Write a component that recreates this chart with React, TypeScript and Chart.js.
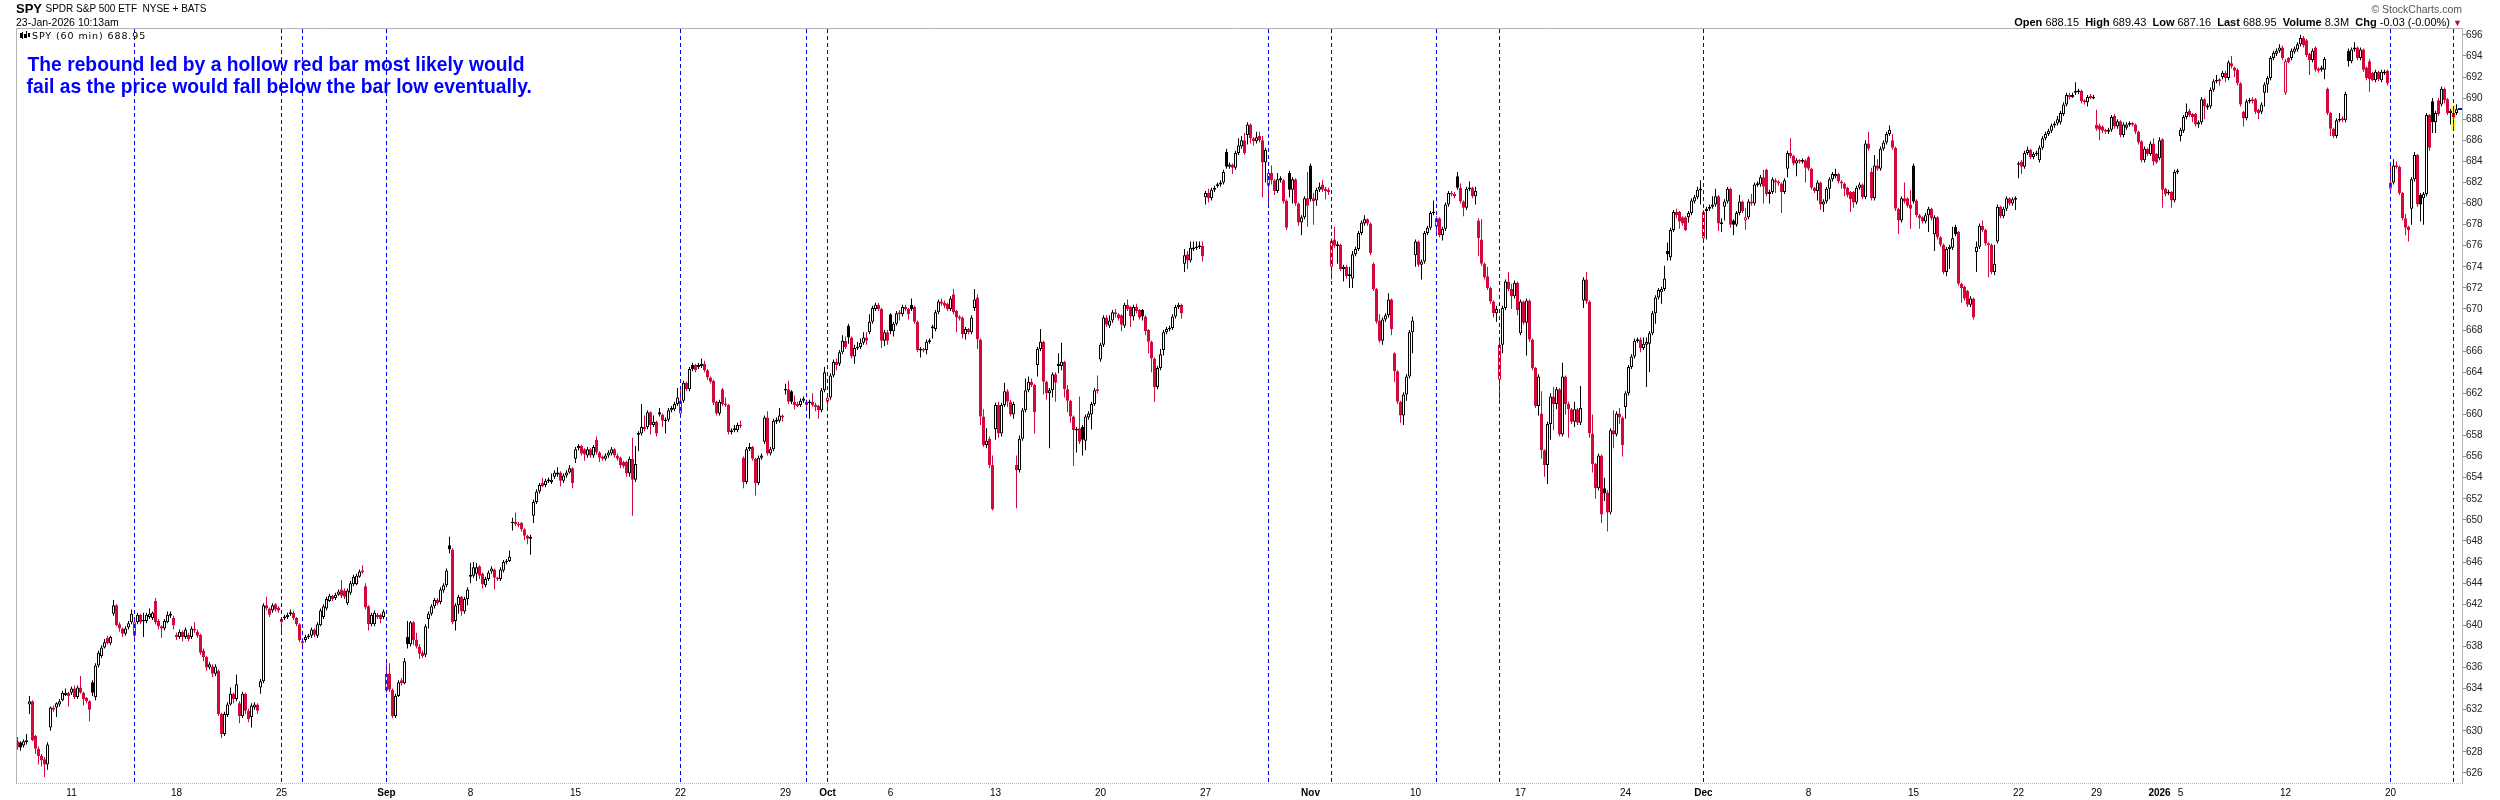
import React, { useEffect, useRef } from "react";
import { Chart, registerables } from "chart.js";

Chart.register(...registerables);

// ---- SPY 60-min bars, 6-Aug-2025 .. 23-Jan-2026 ----
const opens = [
629.0,628.9,628.6,628.9,
632.5,632.8,629.5,628.3,627.6,627.3,626.8,
630.3,632.2,632.2,632.5,632.9,633.4,633.6,
633.6,634.0,633.2,634.1,633.6,633.1,632.8,
634.6,633.2,636.2,637.1,637.9,638.8,638.3,
641.1,641.9,640.1,639.7,639.2,639.8,640.3,
639.0,640.3,641.0,640.4,640.4,640.8,640.7,
642.3,640.4,639.9,639.7,640.3,640.9,640.7,
639.1,638.9,639.4,638.9,639.1,638.9,639.7,
639.4,639.1,637.6,637.0,636.0,636.1,635.4,
635.7,631.6,629.7,631.5,632.5,633.5,633.0,
632.6,631.4,633.5,631.9,631.3,632.2,632.5,
634.1,634.7,641.9,641.6,641.4,642.0,641.7,
640.3,640.7,640.8,641.1,641.2,640.7,640.1,
638.3,638.6,638.9,639.0,639.6,639.0,640.0,
640.8,641.6,642.3,642.8,642.6,642.9,643.4,
643.3,642.1,643.1,643.9,643.9,644.6,645.2,
643.7,641.8,640.1,640.1,641.0,641.0,640.8,
633.8,635.4,633.9,631.4,633.3,634.8,634.5,
638.9,638.2,640.3,638.6,638.0,637.4,637.2,
640.6,641.1,641.8,642.4,642.2,643.3,643.8,
647.6,647.2,640.4,641.9,642.7,641.3,642.5,
644.8,644.7,644.9,645.6,644.9,643.8,644.4,
645.1,645.3,644.5,644.4,645.2,646.0,646.1,
649.7,649.8,649.6,649.7,649.1,648.5,648.2,
650.4,651.7,652.7,653.5,653.3,653.7,653.6,
654.1,654.3,654.5,653.7,654.2,654.5,654.9,
655.8,656.8,657.0,656.7,656.1,656.7,656.1,
657.6,656.4,656.0,655.8,656.1,656.3,656.7,
656.1,655.9,655.5,655.5,654.4,655.8,653.8,
658.1,658.2,658.8,658.8,660.2,659.0,659.3,
660.2,660.0,659.4,659.5,660.4,660.5,661.0,
660.1,661.3,663.0,662.4,664.7,664.7,664.5,
664.6,664.8,664.2,663.5,663.2,661.2,660.1,
662.4,661.0,660.9,658.3,658.5,658.5,659.0,
655.9,653.6,656.7,656.9,655.8,653.5,655.9,
657.4,659.7,656.3,656.7,659.3,659.4,659.9,
662.3,662.4,662.2,661.2,661.0,660.9,661.3,
660.9,661.1,661.2,660.9,660.8,660.4,662.3,
661.2,661.6,663.7,665.0,664.8,665.9,667.0,
668.4,667.3,665.5,666.3,666.4,666.8,667.3,
667.8,668.8,670.0,670.4,670.0,667.0,667.8,
669.5,667.9,668.6,669.7,669.5,670.2,670.0,
670.4,670.2,668.8,666.1,666.2,666.1,666.9,
668.2,668.1,669.7,670.7,670.6,670.5,670.0,
671.4,669.8,669.3,669.2,667.6,668.1,667.8,
670.1,671.1,667.1,659.8,657.1,657.7,655.2,
658.6,660.9,658.2,660.9,662.2,661.2,660.0,
655.2,654.7,657.7,660.4,662.3,663.1,662.8,
664.7,666.2,666.9,663.1,662.0,662.3,663.8,
664.8,664.6,665.0,662.4,661.3,659.8,658.5,
658.7,658.8,657.5,659.7,660.0,661.0,662.4,
665.2,666.6,669.2,668.4,668.9,669.7,669.5,
669.4,668.4,670.4,670.2,669.3,670.2,669.9,
669.9,669.3,668.0,666.9,665.3,662.6,664.4,
666.1,667.8,668.1,668.2,669.3,670.2,670.4,
674.3,675.2,674.6,675.7,675.8,675.9,676.0,
680.6,681.0,680.5,681.3,681.7,681.8,682.0,
684.9,683.5,683.7,683.4,684.8,685.4,686.0,
686.5,687.5,686.2,685.9,686.4,686.0,683.9,
681.7,682.9,682.2,681.2,682.2,682.2,680.3,
682.9,681.3,682.3,680.0,678.2,678.7,680.5,
683.6,680.5,680.3,681.3,681.8,681.4,681.3,
674.0,676.6,676.0,676.1,673.8,674.0,673.1,
672.9,675.2,675.7,677.2,678.1,678.5,678.1,
674.3,671.9,668.9,667.0,669.0,669.4,670.9,
665.8,664.1,661.2,659.9,661.9,663.6,667.8,
675.1,676.4,674.2,674.5,677.2,677.7,679.1,
677.8,678.6,677.0,677.6,679.9,681.0,680.9,
682.6,681.5,680.2,679.6,681.4,681.5,680.7,
678.4,676.6,674.3,673.1,672.0,670.7,669.6,
663.3,666.6,670.1,672.6,671.9,671.2,672.5,
667.7,670.7,668.7,670.8,667.1,664.4,660.8,
660.1,656.6,655.2,659.1,661.7,661.0,662.4,
658.1,663.6,661.0,660.5,659.3,660.5,659.2,
670.8,672.8,670.7,658.2,655.3,653.0,656.1,
653.0,652.6,650.7,658.5,658.1,660.1,659.7,
660.7,662.0,664.5,665.5,667.0,667.1,666.3,
666.6,666.7,667.7,669.6,671.1,671.6,671.9,
675.5,674.9,677.5,679.2,679.2,678.7,678.7,
678.7,679.1,680.2,680.6,681.3,
676.7,679.3,679.5,679.7,679.9,680.7,678.1,
679.7,680.2,681.4,678.4,678.0,679.1,680.2,
678.4,678.7,680.2,680.0,681.8,681.8,682.5,
683.2,680.9,681.1,682.2,682.1,681.9,681.1,
683.3,684.8,684.5,683.8,684.1,684.0,684.1,
684.4,683.3,681.5,681.2,682.0,679.9,680.2,
681.4,682.3,682.6,682.8,682.1,681.9,681.5,
681.1,681.1,680.1,681.5,681.8,680.6,685.7,
683.0,680.5,683.6,683.3,685.2,685.8,686.6,
686.0,685.3,679.5,678.4,680.5,680.5,679.9,
683.6,680.3,678.9,678.7,678.3,678.9,679.5,
677.1,678.7,676.8,676.1,673.5,675.7,675.8,
677.8,677.3,672.4,672.1,671.7,670.4,671.0,
675.4,675.9,677.9,677.5,676.2,676.1,673.5,
676.4,679.7,678.8,679.5,680.5,680.0,680.4,
683.7,684.0,683.5,684.8,685.1,684.4,684.7,
684.1,685.3,686.2,686.6,686.9,687.4,687.6,
687.7,688.5,689.4,690.3,690.1,
690.5,690.6,690.7,689.8,689.6,690.2,690.0,
687.45,687.4,687.3,687.0,686.8,687.0,688.3,
687.3,687.8,686.5,687.2,687.5,687.6,687.5,
686.8,685.9,684.1,685.2,684.7,685.7,684.7,
684.3,686.1,681.4,681.0,681.1,680.3,683.0,
686.4,686.9,688.2,688.8,688.5,688.5,687.5,
687.7,689.9,689.1,689.2,690.8,691.6,691.8,
692.0,692.4,691.9,693.3,692.9,692.7,691.4,
688.7,688.1,689.7,689.9,689.9,688.9,688.7,
690.5,691.3,691.9,693.8,694.2,694.5,694.8,
690.5,693.8,693.8,694.4,694.6,695.1,695.7,
695.5,694.2,693.6,694.8,692.8,692.7,692.7,
690.9,688.6,687.1,686.4,687.9,688.1,687.9,
694.5,693.5,694.6,694.8,693.8,694.6,692.9,
693.5,692.4,691.7,692.5,691.7,692.4,692.6,
681.4,682.0,683.6,683.5,681.0,678.6,677.8,
679.5,682.3,684.6,680.8,680.5,680.9,688.4,
689.7,687.7,689.8,689.4,690.9,689.9,688.6,
688.15,688.6,
];

const highs = [
629.4,629.0,629.2,629.7,
633.3,632.9,629.6,628.5,627.8,627.5,628.9,
632.3,632.4,632.7,633.0,633.8,634.0,633.7,
634.2,634.3,634.3,635.2,633.7,633.2,632.9,
634.8,636.4,637.6,638.1,638.7,639.0,639.0,
642.4,642.0,640.3,639.8,639.9,640.4,641.5,
640.5,641.2,641.1,641.2,641.2,641.6,641.3,
642.6,640.6,640.0,640.6,641.3,641.3,640.9,
639.3,639.6,639.5,639.8,639.3,639.9,640.3,
639.6,639.2,637.8,637.1,636.5,636.3,636.3,
635.8,631.7,631.8,632.7,634.1,633.6,635.3,
632.8,633.7,633.6,632.1,632.6,632.7,632.6,
634.9,642.1,642.7,641.7,642.1,642.1,641.8,
640.8,641.0,641.2,641.5,641.4,640.8,640.2,
638.7,639.1,639.2,639.8,639.7,640.3,641.6,
642.0,642.7,643.0,642.9,643.1,643.4,644.3,
643.5,643.5,644.2,644.8,644.9,645.3,645.7,
644.0,641.9,641.2,641.4,641.2,641.1,641.5,
636.4,636.4,634.0,633.5,634.8,635.0,636.9,
640.4,640.4,640.4,639.3,638.2,637.6,640.1,
641.3,642.0,642.6,642.6,643.6,644.0,645.4,
648.4,647.3,642.1,642.9,642.8,642.7,643.6,
645.9,646.0,645.9,645.7,645.0,644.6,645.2,
645.6,645.4,644.6,645.5,646.2,646.3,647.1,
650.2,650.7,649.8,649.8,649.2,648.6,648.6,
651.9,652.9,653.5,654.0,653.9,654.0,654.4,
654.7,655.0,654.6,654.4,654.7,655.2,655.0,
656.9,657.2,657.1,656.8,656.9,656.8,657.1,
657.9,656.5,656.1,656.3,656.6,656.9,656.8,
656.3,656.0,655.6,655.6,656.0,657.8,657.0,
658.4,661.0,659.9,660.4,660.3,659.9,659.4,
660.6,660.1,659.7,660.6,660.8,661.2,662.5,
662.3,663.2,663.1,664.5,664.9,664.8,664.9,
665.3,665.1,664.3,663.6,663.3,661.3,661.4,
662.5,661.6,661.0,658.7,659.0,659.2,659.4,
656.0,656.9,657.3,657.0,655.9,656.1,656.3,
659.9,660.3,656.9,659.6,659.7,660.6,660.0,
662.9,663.2,662.3,661.8,661.2,661.5,661.7,
661.4,661.4,662.0,661.1,660.9,662.5,664.5,
661.9,663.9,665.2,665.3,666.1,667.5,667.4,
668.6,667.4,666.6,666.9,667.2,667.8,667.8,
669.5,670.3,670.6,670.6,670.1,668.0,668.0,
669.6,668.8,669.8,669.9,670.4,670.4,670.1,
671.0,670.3,668.9,666.4,666.3,667.1,667.2,
668.5,669.9,670.9,671.0,670.8,670.6,671.2,
671.9,669.9,669.4,669.3,668.3,668.2,669.4,
671.9,671.4,667.2,660.5,658.7,657.9,656.1,
661.1,661.2,661.1,663.0,662.4,661.4,661.2,
656.1,658.0,660.6,663.4,663.6,663.4,662.9,
666.4,668.1,667.0,663.2,662.5,664.0,664.0,
665.8,666.8,665.1,662.8,661.4,659.9,658.8,
661.7,659.0,660.0,660.3,661.2,662.5,663.7,
666.8,669.4,669.4,669.4,669.9,670.0,669.6,
669.5,670.6,670.9,670.3,670.4,670.5,670.0,
670.0,669.4,668.1,667.0,665.4,664.6,666.2,
668.0,668.3,668.4,669.5,670.4,670.6,670.5,
675.7,675.5,676.4,676.4,676.4,676.4,676.4,
681.2,681.4,681.5,681.7,682.0,682.2,683.2,
685.2,683.9,683.8,685.0,686.2,686.4,686.7,
687.7,687.6,686.3,686.8,686.8,686.4,685.3,
683.1,683.6,682.3,682.9,682.6,682.3,680.4,
683.1,682.5,682.4,680.1,678.9,680.7,683.0,
683.8,681.0,681.5,682.0,682.2,681.6,681.5,
676.7,677.8,676.4,676.2,674.2,674.2,674.0,
675.5,675.9,677.4,678.4,678.9,678.6,678.2,
674.4,672.0,669.5,669.2,669.6,671.5,671.0,
665.9,664.2,661.3,662.1,663.8,668.0,669.3,
676.6,676.5,674.7,677.4,677.9,679.3,680.3,
678.8,678.7,677.8,680.1,681.2,681.2,681.1,
683.0,681.9,680.3,681.6,682.1,681.6,681.6,
678.6,678.5,674.4,674.0,672.1,670.8,670.3,
667.0,670.3,672.8,673.5,672.4,672.7,672.6,
670.9,670.8,671.0,670.9,667.2,664.5,663.8,
662.2,656.7,659.3,662.0,662.6,662.6,662.5,
664.9,663.7,661.2,660.6,661.2,660.6,662.7,
673.0,673.5,670.8,660.0,655.4,656.3,656.2,
654.0,652.8,658.7,660.4,660.3,660.6,659.8,
662.2,664.7,665.7,667.2,667.3,667.3,667.3,
667.3,667.9,669.8,671.3,672.0,672.1,674.1,
676.3,677.7,679.4,679.5,679.3,678.8,678.8,
679.3,680.5,680.8,681.6,682.2,
679.4,679.7,679.9,680.7,681.4,680.8,678.6,
680.4,681.6,681.5,678.5,679.3,680.8,680.3,
679.6,680.4,680.9,682.0,682.1,682.7,683.2,
683.3,681.3,682.5,682.4,682.2,682.0,682.4,
685.0,686.2,684.6,684.3,684.2,684.3,684.2,
684.5,683.4,681.6,682.2,682.1,680.4,681.6,
682.5,683.0,683.3,682.9,682.2,682.0,681.6,
681.2,681.2,681.7,682.0,681.9,686.0,686.8,
683.4,684.6,684.2,685.4,686.0,686.8,687.4,
686.6,685.4,679.6,680.7,682.0,680.6,681.3,
683.8,680.4,679.0,678.8,679.1,679.7,679.6,
678.9,678.8,676.9,676.2,675.9,676.1,677.8,
678.0,677.4,672.5,672.2,671.8,671.2,671.1,
676.4,678.1,678.4,677.6,676.3,676.2,676.1,
679.9,679.8,679.7,680.7,680.6,680.6,680.7,
684.0,684.1,685.0,685.4,685.2,684.9,685.0,
685.5,686.4,686.8,687.1,687.6,687.8,688.3,
688.8,689.6,690.5,690.5,690.5,
691.5,690.9,690.8,689.9,690.3,690.4,690.3,
688.9,687.6,687.4,687.1,687.2,688.4,688.5,
688.0,687.9,687.7,687.7,687.8,687.7,687.6,
686.9,686.0,685.4,685.3,685.9,686.2,684.8,
686.3,686.2,681.5,681.3,681.2,683.2,683.3,
687.2,688.4,689.5,689.0,688.6,688.6,687.9,
690.1,690.0,689.5,691.0,691.8,692.2,691.9,
692.6,692.6,693.6,694.0,693.0,692.8,691.5,
688.8,689.9,690.0,690.1,690.0,689.0,689.6,
691.5,692.1,694.0,694.5,694.7,695.1,695.0,
693.7,693.9,694.7,694.9,695.3,696.0,695.9,
695.6,694.3,694.7,694.9,692.9,693.1,693.9,
691.0,688.7,687.2,688.1,688.6,688.3,690.6,
694.7,694.8,695.3,694.9,694.8,694.7,693.0,
693.7,692.5,692.7,692.6,692.7,692.7,692.7,
683.6,684.2,684.0,683.6,681.1,679.0,677.9,
682.5,684.9,684.7,681.0,681.1,688.6,688.5,
690.0,688.8,690.0,691.1,691.0,690.0,689.0,
689.0,689.43,
];

const lows = [
628.2,628.1,628.4,628.7,
631.6,629.0,627.8,626.8,626.6,625.6,626.3,
630.0,631.8,631.3,632.3,632.8,633.3,632.3,
633.4,633.0,633.0,633.5,632.4,632.6,630.9,
633.3,632.9,636.0,636.9,637.8,638.2,638.1,
640.9,639.9,639.4,638.9,639.0,639.6,640.1,
638.8,640.1,640.1,638.9,640.2,640.6,640.5,
640.1,639.6,638.8,639.5,640.2,640.7,639.6,
638.6,638.7,638.5,638.7,638.5,638.7,639.3,
638.8,637.2,636.6,635.7,635.8,635.1,635.2,
631.4,629.3,629.5,631.3,632.4,632.6,632.8,
630.7,631.2,631.6,630.8,630.3,632.0,631.6,
633.5,634.5,641.4,640.8,641.2,641.3,641.2,
639.2,640.5,640.6,640.9,640.5,639.9,638.4,
638.0,638.4,638.7,638.8,638.9,638.8,639.9,
640.6,641.4,642.2,642.3,642.4,642.8,642.6,
642.5,641.9,642.9,643.7,643.8,644.5,644.9,
641.5,639.5,639.9,639.9,640.6,640.2,640.6,
633.6,633.7,631.2,631.2,633.2,634.3,634.4,
637.8,638.0,638.1,637.8,636.8,636.9,637.0,
639.7,640.9,641.6,641.9,642.0,643.1,643.6,
646.8,640.1,639.5,641.1,640.9,641.1,641.9,
644.0,644.5,644.2,644.4,643.5,643.6,644.2,
644.9,643.4,644.2,644.2,645.0,645.8,646.0,
649.0,649.4,649.3,648.9,648.1,647.7,646.7,
649.7,651.5,652.5,653.1,653.1,653.5,653.4,
653.9,654.1,653.2,653.5,654.0,654.4,653.0,
655.4,656.6,656.1,655.6,655.9,655.9,655.9,
656.2,655.5,655.6,655.6,655.9,656.1,655.9,
655.6,654.9,654.9,654.1,654.1,650.4,653.6,
656.5,658.0,658.4,658.6,658.1,658.8,657.9,
659.8,658.8,658.2,659.3,660.2,660.3,660.8,
659.8,661.1,662.2,662.2,664.1,664.0,664.3,
664.4,664.0,663.3,662.9,660.9,659.9,659.9,
660.8,660.7,658.1,658.1,658.3,658.3,658.7,
653.0,653.4,656.5,655.6,652.3,653.3,655.7,
657.2,656.1,656.1,656.5,659.1,659.2,659.3,
661.9,661.0,661.0,660.5,660.7,660.7,661.1,
660.7,659.6,660.7,660.3,659.6,660.2,662.1,
660.4,661.4,663.5,664.2,664.6,665.7,666.2,
666.7,665.3,664.8,666.1,666.2,666.6,666.6,
667.6,668.6,669.8,669.8,666.3,666.5,666.6,
667.6,667.4,668.4,668.9,669.3,669.8,669.0,
669.8,668.6,665.9,665.4,665.9,665.7,666.7,
667.2,667.9,669.5,670.3,670.1,669.8,669.8,
669.5,667.8,668.9,667.2,667.1,667.6,667.6,
669.8,666.2,659.0,656.9,656.8,654.9,650.9,
657.6,657.8,657.9,660.7,660.7,659.8,659.6,
651.1,654.5,657.5,660.2,662.1,662.6,658.2,
663.6,666.0,661.9,661.4,656.8,661.6,661.2,
663.9,664.2,661.6,660.2,659.2,655.1,656.4,
657.2,656.1,656.6,659.5,658.6,660.8,662.0,
665.0,666.4,668.3,668.2,668.7,669.2,668.9,
667.9,668.2,669.8,668.3,668.9,669.6,669.0,
668.9,667.5,665.8,664.0,661.2,662.4,664.2,
665.6,667.6,667.9,668.0,669.1,670.0,669.1,
673.5,673.8,674.4,675.5,675.6,675.7,674.5,
679.9,680.1,680.3,681.1,681.5,681.6,681.8,
683.3,683.3,682.8,683.2,684.6,685.2,684.6,
685.6,685.7,685.5,685.7,685.8,680.6,682.0,
679.6,681.8,680.8,681.0,682.0,680.0,677.5,
680.6,680.0,679.8,677.9,677.0,678.5,677.8,
680.2,678.0,679.8,681.1,681.1,680.4,680.8,
672.8,675.8,674.3,673.6,672.6,672.9,672.0,
672.0,675.0,675.5,677.0,677.9,677.9,675.1,
671.7,668.6,666.8,666.6,668.8,669.2,667.5,
663.1,661.0,659.2,659.0,661.3,663.4,665.8,
674.0,674.0,672.8,674.3,677.0,677.5,678.9,
677.0,676.8,676.5,677.4,679.7,680.7,680.5,
681.3,680.0,678.8,679.4,681.2,680.5,679.9,
675.0,674.1,672.8,671.8,670.5,669.2,668.8,
661.4,665.8,669.9,671.7,670.0,671.0,669.4,
667.5,668.5,665.6,666.9,664.2,660.6,659.9,
655.8,654.1,653.4,657.6,658.5,660.5,657.9,
657.9,660.0,657.8,659.1,658.8,659.0,659.0,
670.1,670.5,657.8,654.5,652.0,652.8,649.7,
651.8,648.9,650.5,656.8,657.9,659.1,656.0,
659.6,661.8,664.3,665.3,666.8,665.9,666.1,
662.6,664.0,667.5,668.6,670.9,670.5,671.7,
674.6,674.6,677.3,678.6,677.6,677.9,677.4,
678.2,678.9,680.0,680.4,679.9,
676.5,676.6,679.3,679.5,679.7,677.4,677.3,
678.4,680.0,677.7,677.0,677.8,678.9,679.1,
677.5,678.5,679.8,679.8,681.6,681.6,680.0,
680.7,680.0,680.9,681.0,681.7,679.1,680.9,
682.5,684.3,683.6,682.6,683.8,683.8,682.0,
683.1,681.3,681.0,680.3,679.4,679.2,680.0,
680.4,682.1,682.4,681.9,681.4,680.7,680.6,
679.2,679.6,679.9,681.3,680.4,680.4,685.0,
680.3,680.3,683.1,683.1,685.0,685.6,686.4,
685.1,679.3,677.1,678.2,680.0,679.6,677.6,
680.0,678.7,677.6,678.1,678.1,677.3,678.4,
675.5,676.6,675.9,673.3,673.1,673.8,675.6,
676.9,672.2,670.6,670.8,670.2,670.2,669.0,
673.5,675.7,677.3,676.0,673.0,673.3,673.2,
676.2,678.6,678.6,679.3,679.8,679.8,679.4,
682.4,682.8,683.3,684.6,684.2,684.2,684.5,
683.9,685.1,686.0,686.4,686.7,687.2,687.4,
687.5,688.3,689.2,689.9,690.0,
690.3,690.4,689.5,689.4,689.2,689.9,689.9,
686.9,686.0,686.7,686.6,686.6,686.8,687.1,
687.1,686.3,686.3,687.0,687.3,687.3,686.6,
685.6,683.9,683.9,684.5,684.5,683.6,683.8,
684.1,679.6,680.7,680.8,679.6,680.1,682.8,
685.9,686.7,688.0,688.2,687.7,687.3,687.2,
687.5,688.0,688.9,689.0,690.6,691.4,691.2,
691.8,691.5,691.7,692.8,692.0,691.2,689.2,
687.3,687.9,689.5,689.5,688.5,688.0,688.5,
689.2,690.5,691.7,693.6,694.0,694.3,693.6,
690.3,693.3,693.6,694.2,694.4,694.9,694.8,
693.9,692.2,693.4,692.5,692.4,692.5,691.8,
688.4,686.4,686.2,686.2,687.7,687.7,687.7,
693.0,693.3,694.4,693.6,693.6,692.5,691.7,
690.6,691.6,691.5,691.6,691.5,692.2,691.2,
681.0,681.8,683.3,680.8,678.4,677.0,676.4,
678.0,682.1,679.7,678.3,678.0,680.7,685.0,
686.7,686.7,688.3,689.2,689.5,688.4,687.5,
687.16,688.4,
];

const closes = [
628.4,628.4,629.0,629.1,
632.8,629.1,628.3,627.6,627.2,626.8,628.7,
632.2,632.0,632.6,632.8,633.6,633.6,633.3,
634.0,633.2,634.1,633.6,633.0,632.8,632.0,
633.6,636.2,637.4,637.9,638.4,638.3,638.9,
641.9,640.0,639.7,639.2,639.7,640.2,641.1,
640.3,641.0,640.3,640.5,641.0,641.1,641.2,
640.3,639.9,639.7,640.4,641.0,641.1,640.0,
638.9,639.4,638.9,639.6,638.7,639.7,639.5,
639.0,637.4,637.0,636.0,636.3,635.4,636.1,
631.6,629.7,631.6,632.5,633.5,633.0,634.4,
631.4,633.5,631.9,631.1,632.4,632.5,631.9,
634.7,641.9,641.6,641.0,641.9,641.5,641.4,
640.6,640.8,641.0,641.2,640.7,640.1,638.6,
638.5,638.9,639.0,639.6,639.1,640.1,641.4,
641.8,642.5,642.8,642.5,642.9,643.2,642.8,
642.7,643.3,644.0,644.6,644.7,645.1,645.0,
641.7,640.1,641.0,641.2,640.8,640.6,641.3,
635.4,633.9,631.4,633.3,634.6,634.5,636.6,
638.2,640.3,638.6,638.0,637.3,637.1,639.9,
641.1,641.8,642.4,642.1,643.4,643.8,645.2,
647.2,640.3,641.9,642.7,641.3,642.5,643.4,
644.6,645.5,645.5,644.7,643.9,644.4,645.0,
645.4,644.5,644.4,645.3,646.0,646.1,646.5,
649.8,649.6,649.5,649.1,648.5,648.2,648.4,
651.7,652.7,653.3,653.2,653.7,653.8,653.8,
654.5,654.5,653.7,654.2,654.5,654.9,653.5,
656.7,657.0,656.3,656.2,656.7,656.1,656.9,
656.4,655.9,655.8,656.1,656.4,656.7,656.1,
655.8,655.2,655.1,654.4,655.8,653.8,655.3,
658.2,658.8,658.6,660.2,659.0,659.3,658.2,
660.0,659.4,659.5,660.4,660.6,661.0,661.6,
661.3,663.0,662.4,664.3,664.3,664.2,664.7,
664.8,664.2,663.5,663.1,661.1,660.1,661.2,
661.0,660.9,658.3,658.5,658.7,659.0,658.9,
653.6,656.7,656.9,655.8,653.5,655.9,656.1,
659.7,656.3,656.7,659.4,659.5,659.9,659.7,
662.4,661.2,661.2,660.9,660.8,661.3,661.5,
661.2,661.2,660.9,660.7,660.4,662.3,664.0,
661.6,663.7,665.0,664.7,665.9,667.0,666.4,
667.3,665.5,666.3,666.4,666.8,667.3,667.0,
668.8,670.1,670.4,670.0,667.0,667.8,667.0,
667.9,668.6,669.6,669.5,670.2,670.0,669.5,
670.0,668.8,666.1,666.2,666.1,666.9,667.0,
668.3,669.7,670.7,670.5,670.3,670.0,671.0,
669.7,669.2,669.1,667.6,668.1,667.8,669.2,
670.9,667.1,659.8,657.1,657.5,655.2,651.0,
660.9,658.2,660.9,662.2,661.2,660.0,661.0,
654.7,657.7,660.4,662.3,663.1,662.8,660.2,
666.2,666.9,663.1,662.0,662.3,663.8,663.0,
664.6,665.0,662.4,661.3,659.8,658.5,658.6,
657.4,657.6,659.8,660.1,661.0,662.3,662.2,
666.6,669.2,668.5,668.9,669.7,669.5,669.1,
668.5,670.4,670.0,669.3,670.2,669.8,669.2,
669.3,667.9,666.9,665.3,662.6,664.4,665.7,
667.8,668.1,668.2,669.3,670.2,670.4,669.6,
675.1,674.6,675.8,675.8,675.9,676.0,675.0,
681.0,680.5,681.3,681.5,681.8,682.0,683.0,
683.5,683.7,683.4,684.8,685.5,686.0,684.8,
687.5,686.2,685.9,686.3,686.0,683.9,685.1,
682.9,682.2,681.2,682.3,682.4,680.2,677.7,
681.3,682.3,680.0,678.2,678.7,680.5,679.8,
680.4,680.2,681.3,681.6,681.3,681.2,681.1,
676.5,676.0,676.1,673.8,674.0,673.1,673.3,
675.2,675.7,677.2,678.2,678.5,678.1,675.3,
671.9,668.8,667.0,669.0,669.4,670.9,668.1,
664.1,661.2,659.9,661.9,663.6,667.8,668.9,
676.4,674.2,674.5,677.2,677.7,679.1,679.2,
678.6,677.0,677.6,679.9,681.0,680.9,680.7,
681.5,680.2,679.6,681.4,681.5,680.7,681.2,
676.7,674.3,673.0,672.0,670.7,669.6,670.0,
666.6,670.1,672.6,671.9,671.2,672.5,669.9,
670.7,668.7,670.8,667.1,664.4,660.8,663.6,
656.6,655.2,659.1,661.7,661.0,662.4,658.1,
663.6,661.0,660.5,659.3,660.5,659.2,660.6,
672.8,670.7,658.2,655.3,653.0,656.1,650.5,
652.5,650.7,658.5,658.1,660.1,659.7,657.1,
662.0,664.5,665.5,667.0,667.1,666.3,666.7,
666.9,667.7,669.6,671.1,671.8,671.9,672.9,
675.2,677.5,679.2,678.9,678.3,678.1,677.5,
679.1,680.3,680.6,681.3,681.4,
679.2,679.5,679.7,679.9,680.7,678.1,678.2,
680.2,681.4,678.0,678.0,679.1,680.2,679.3,
678.7,680.2,680.0,681.8,681.9,682.5,681.6,
680.9,681.1,682.3,682.0,681.9,681.1,682.2,
684.8,684.5,683.8,684.1,684.0,684.1,683.4,
683.3,681.5,681.2,682.0,679.9,680.2,681.4,
682.3,682.8,682.8,682.1,681.9,681.4,680.8,
680.4,680.1,681.5,681.8,680.6,685.7,685.2,
680.5,683.6,683.3,685.2,685.8,686.6,687.0,
685.3,679.5,678.4,680.5,680.2,679.8,679.5,
680.2,678.9,678.6,678.3,678.9,679.5,678.6,
678.7,676.8,676.1,673.5,675.7,675.9,676.7,
677.1,672.4,672.0,671.0,670.4,671.0,669.2,
675.9,677.9,677.5,676.2,676.1,673.5,674.3,
679.7,678.8,679.5,680.5,680.0,680.4,680.5,
683.8,683.5,684.8,685.1,684.4,684.7,684.8,
685.3,686.2,686.6,686.9,687.4,687.6,688.0,
688.6,689.4,690.3,690.1,690.3,
690.7,690.7,689.7,689.6,690.1,690.0,690.1,
687.1,687.0,686.9,686.8,687.0,688.2,687.3,
687.8,686.5,687.5,687.5,687.6,687.5,686.8,
685.8,684.1,685.2,684.7,685.7,684.0,683.9,
686.0,681.3,680.9,681.1,680.3,683.0,683.1,
687.0,688.2,688.7,688.4,688.2,687.5,687.7,
689.9,689.2,689.3,690.8,691.6,691.7,691.6,
692.4,691.9,693.4,693.0,692.6,691.4,689.4,
688.1,689.7,689.8,689.7,688.7,688.6,689.4,
691.3,691.9,693.8,694.3,694.5,694.8,693.8,
693.5,693.4,694.5,694.7,695.1,695.7,695.0,
694.1,693.6,694.5,692.7,692.6,692.9,693.7,
688.6,687.1,686.4,687.9,688.0,687.9,690.4,
693.5,694.6,694.8,693.8,694.6,692.7,691.9,
691.8,691.7,692.5,691.8,692.5,692.5,691.4,
682.0,683.6,683.5,681.0,678.6,677.7,677.5,
682.3,684.6,679.9,679.9,680.9,688.4,685.3,
687.7,688.6,688.5,690.9,689.8,688.6,688.8,
688.6,688.95,
];

// bars marked with a blue dashed line (hollow red bars)
const markerBars = [39, 88, 95, 123, 221, 263, 270, 417, 438, 473, 494, 562, 791, 812];
const highlightBar = 812;
const lastPrice = 688.95;

// x-axis labels (bar index of the first bar of each week / month)
const tickBars = [18, 53, 88, 123, 151, 186, 221, 256, 270, 291, 326, 361, 396, 431, 466, 501, 536, 562, 597, 632, 667, 693, 714, 721, 756, 791];
const tickLabels = ["11", "18", "25", "Sep", "8", "15", "22", "29", "Oct", "6", "13", "20", "27", "Nov", "10", "17", "24", "Dec", "8", "15", "22", "29", "2026", "5", "12", "20"];
const boldTickLabels = ["Sep", "Oct", "Nov", "Dec", "2026"];
const yTicks = [626, 628, 630, 632, 634, 636, 638, 640, 642, 644, 646, 648, 650, 652, 654, 656, 658, 660, 662, 664, 666, 668, 670, 672, 674, 676, 678, 680, 682, 684, 686, 688, 690, 692, 694, 696];

const quoteItems = [
  ["Open", "688.15"],
  ["High", "689.43"],
  ["Low", "687.16"],
  ["Last", "688.95"],
  ["Volume", "8.3M"],
  ["Chg", "-0.03 (-0.00%)"],
];

const RED = "#d5083b";
const BLACK = "#000000";
const FONT = '"Liberation Sans", Arial, Helvetica, sans-serif';

function Txt(props: any) {
  const { x, right, base, size, bold, color, family, ls, children } = props;
  const style: any = {
    position: "absolute",
    top: base - 0.8465 * size,
    fontSize: size,
    lineHeight: `${size}px`,
    fontWeight: bold ? 700 : 400,
    color: color || "#000",
    whiteSpace: "pre",
    fontFamily: family || FONT,
    letterSpacing: ls || 0,
    pointerEvents: "none",
  };
  if (right !== undefined) style.right = 2500 - right;
  else style.left = x;
  return <div style={style}>{children}</div>;
}

export default function App() {
  const ref = useRef<HTMLCanvasElement | null>(null);

  useEffect(() => {
    const n = Math.min(opens.length, highs.length, lows.length, closes.length);
    const bodyData: any[] = [];
    const wickData: any[] = [];
    const lineColors: string[] = [];
    const fillColors: string[] = [];
    for (let i = 0; i < n; i++) {
      const o = opens[i];
      const c = closes[i];
      const prev = i > 0 ? closes[i - 1] : o;
      const col = c >= prev ? BLACK : RED;
      const hollow = c > o;
      let lo = Math.min(o, c);
      let hi = Math.max(o, c);
      if (hi - lo < 0.16) {
        const m = (hi + lo) / 2;
        lo = m - 0.08;
        hi = m + 0.08;
      }
      lineColors.push(col);
      fillColors.push(hollow ? "#ffffff" : col);
      bodyData.push({ x: i, y: [lo, hi] });
      wickData.push({ x: i, y: [Math.min(lows[i], lo), Math.max(highs[i], hi)] });
    }

    const overlay = {
      id: "overlay",
      beforeDatasetsDraw(chart: any) {
        const { ctx, scales } = chart;
        const xs = scales.x;
        const ys = scales.y;
        const hx = xs.getPixelForValue(highlightBar);
        const top = ys.getPixelForValue(highs[highlightBar] + 0.4);
        const bot = ys.getPixelForValue(lows[highlightBar] - 0.25);
        ctx.save();
        ctx.fillStyle = "#ffff66";
        ctx.fillRect(hx - 2.5, top, 5, bot - top);
        ctx.restore();
      },
      afterDatasetsDraw(chart: any) {
        const { ctx, chartArea: a, scales } = chart;
        const xs = scales.x;
        const ys = scales.y;
        ctx.save();
        // dashed marker lines
        ctx.strokeStyle = "#0000ff";
        ctx.lineWidth = 1;
        ctx.setLineDash([4, 3]);
        ctx.beginPath();
        for (const m of markerBars) {
          const px = xs.getPixelForValue(m);
          ctx.moveTo(px, a.top + 1);
          ctx.lineTo(px, a.bottom);
        }
        ctx.stroke();
        ctx.setLineDash([]);
        // last price marker
        const ly = Math.round(ys.getPixelForValue(lastPrice));
        const lx = xs.getPixelForValue(n - 1) + 1.5;
        ctx.strokeStyle = "#0000ff";
        ctx.lineWidth = 2;
        ctx.beginPath();
        ctx.moveTo(lx, ly);
        ctx.lineTo(a.right - 1, ly);
        ctx.stroke();
        // frame
        ctx.strokeStyle = "#b4b4b4";
        ctx.lineWidth = 1;
        ctx.beginPath();
        ctx.moveTo(a.left + 0.5, a.bottom);
        ctx.lineTo(a.left + 0.5, a.top + 0.5);
        ctx.lineTo(a.right - 0.5, a.top + 0.5);
        ctx.lineTo(a.right - 0.5, a.bottom);
        ctx.stroke();
        ctx.setLineDash([1, 1]);
        ctx.beginPath();
        ctx.moveTo(a.left, a.bottom - 0.5);
        ctx.lineTo(a.right, a.bottom - 0.5);
        ctx.stroke();
        ctx.setLineDash([]);
        // small legend icon
        ctx.fillStyle = "#000";
        ctx.fillRect(20, 33, 2, 5);
        ctx.fillRect(22, 32, 1, 7);
        ctx.fillRect(24, 34, 2, 4);
        ctx.fillRect(26, 31, 1, 7);
        ctx.fillRect(28, 33, 2, 4);
        ctx.restore();
      },
    };

    const chart = new Chart(ref.current as HTMLCanvasElement, {
      type: "bar",
      data: {
        datasets: [
          {
            label: "wick",
            data: wickData,
            backgroundColor: lineColors,
            borderWidth: 0,
            barThickness: 1,
            grouped: false,
            inflateAmount: 0,
            order: 2,
          } as any,
          {
            label: "body",
            data: bodyData,
            backgroundColor: fillColors,
            borderColor: lineColors,
            borderWidth: 1,
            borderSkipped: false,
            barThickness: 3,
            grouped: false,
            inflateAmount: 0,
            order: 1,
          } as any,
        ],
      },
      options: {
        responsive: false,
        animation: false,
        devicePixelRatio: 1,
        events: [],
        layout: { padding: { left: 16, top: 28, right: 0, bottom: 0 } },
        plugins: { legend: { display: false }, tooltip: { enabled: false }, title: { display: false } },
        scales: {
          x: {
            type: "linear",
            min: -0.5,
            max: -0.5 + 2447 / 3,
            offset: false,
            grid: { display: false, drawTicks: false, tickLength: 0 },
            border: { display: false },
            afterBuildTicks: (s: any) => {
              s.ticks = tickBars.map((v) => ({ value: v }));
            },
            afterFit: (s: any) => {
              s.height = 16;
            },
            ticks: {
              autoSkip: false,
              maxRotation: 0,
              minRotation: 0,
              padding: 3,
              color: "#000",
              font: (ctx: any) => ({
                family: FONT,
                size: 10,
                weight: boldTickLabels.includes(tickLabels[ctx.index]) ? "bold" : "normal",
              }),
              callback: (_v: any, idx: number) => tickLabels[idx],
            },
          },
          y: {
            type: "linear",
            position: "right",
            min: 624.95,
            max: 696.65,
            grid: { display: true, drawOnChartArea: false, drawTicks: true, tickLength: 3, color: "#8c8c8c" },
            border: { display: false },
            afterBuildTicks: (s: any) => {
              s.ticks = yTicks.map((v) => ({ value: v }));
            },
            afterFit: (s: any) => {
              s.width = 37;
            },
            ticks: {
              padding: 0,
              color: "#222",
              font: { family: FONT, size: 10 },
              callback: (v: any) => String(v),
            },
          },
        },
      } as any,
      plugins: [overlay],
    });
    return () => chart.destroy();
  }, []);

  return (
    <div style={{ position: "absolute", left: 0, top: 0, width: 2500, height: 800, background: "#fff", overflow: "hidden" }}>
      <canvas ref={ref} width={2500} height={800} style={{ display: "block", width: 2500, height: 800 }} />
      <Txt x={16} base={12.7} size={13} bold>SPY</Txt>
      <Txt x={45.5} base={12.7} size={10}>SPDR S&amp;P 500 ETF</Txt>
      <Txt x={142.5} base={12.7} size={10}>NYSE + BATS</Txt>
      <Txt x={16} base={26} size={10.5}>23-Jan-2026 10:13am</Txt>
      <Txt right={2462} base={12.7} size={10.5} color="#555">© StockCharts.com</Txt>
      <Txt right={2462} base={26} size={11}>
        {quoteItems.map(([k, v], i) => (
          <span key={k}>
            <span style={{ fontWeight: 700 }}>{k}</span>
            {" " + v + (i < quoteItems.length - 1 ? "  " : " ")}
          </span>
        ))}
        <span style={{ color: "#b0103a", fontSize: 9 }}>▼</span>
      </Txt>
      <Txt x={32} base={39} size={9.5} family='"DejaVu Sans", Verdana, sans-serif' ls={0.9}>SPY (60 min) 688.95</Txt>
      <Txt x={27.5} base={71.3} size={19.3} bold color="#0000ff">The rebound led by a hollow red bar most likely would</Txt>
      <Txt x={26.5} base={93} size={19.3} bold color="#0000ff">fail as the price would fall below the bar low eventually.</Txt>
    </div>
  );
}
